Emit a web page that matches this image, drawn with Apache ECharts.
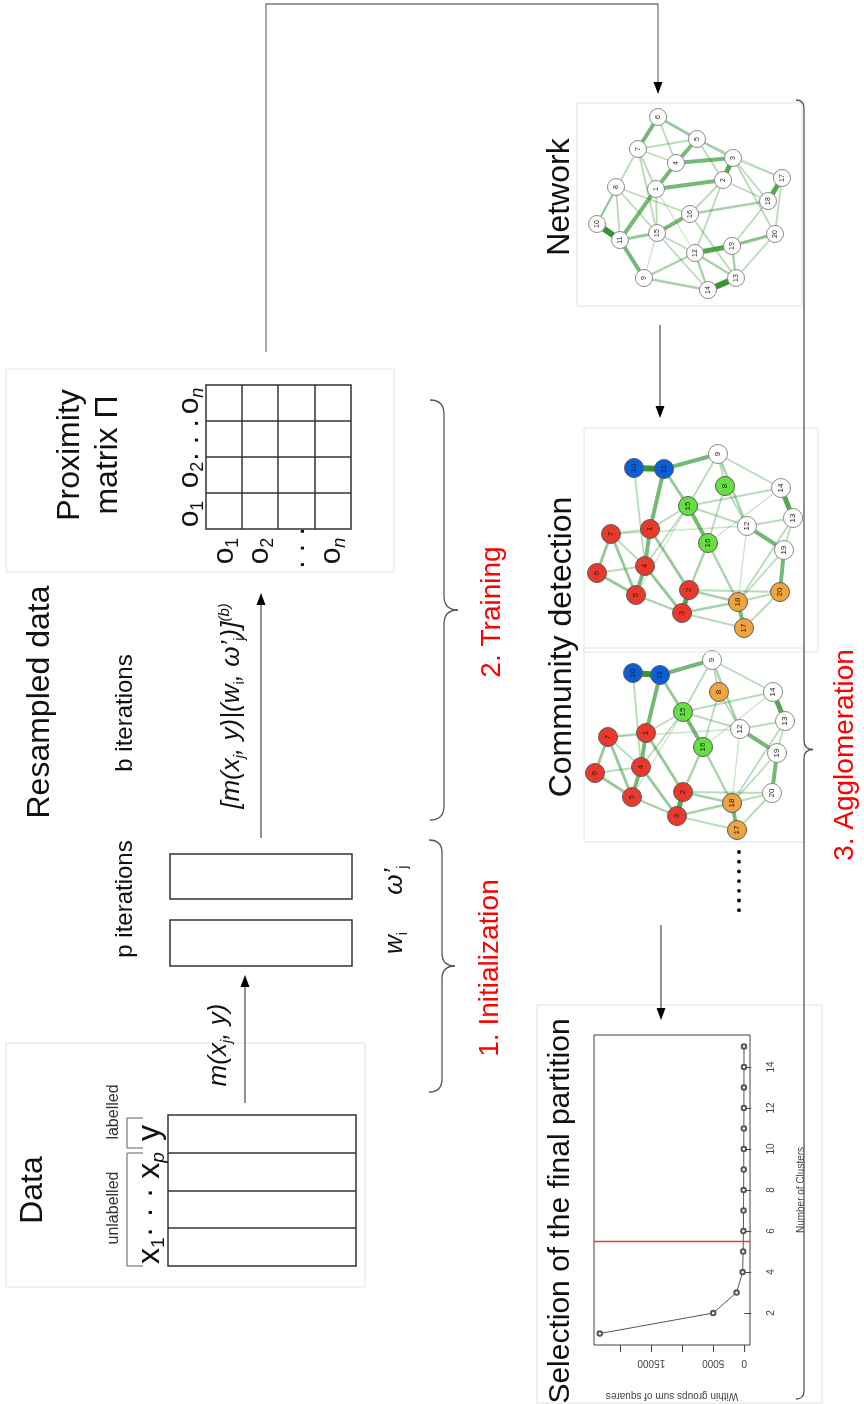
<!DOCTYPE html>
<html><head><meta charset="utf-8">
<script src="https://cdn.jsdelivr.net/npm/echarts@6/dist/echarts.min.js"></script>
<style>html,body{margin:0;padding:0;background:#fff}#c{width:864px;height:1404px}</style>
</head><body><div id="c"></div>
<script>
// ---------------- DATA ----------------
const clusterK = [1,2,3,4,5,6,7,8,9,10,11,12,13,14,15];
const withinSS = [23300,5000,1230,260,170,130,110,95,80,70,60,50,45,40,35];
const kTicks = [2,4,6,8,10,12,14];
const ssTicks = [0,5000,10000,15000,20000];
const ssTickLabels = [0,5000,15000];
const chosenK = 5.5;

// network nodes: [id, x, y, community]  (local coordinates inside each panel)
const net1Nodes = [[6,81,14,'w'],[7,61,46,'w'],[5,120,36,'w'],[4,99,60,'w'],[3,156,55,'w'],[8,39,84,'w'],[1,79,86,'w'],[2,146,77,'w'],[17,205,75,'w'],[18,191,98,'w'],[16,113,111,'w'],[10,20,121,'w'],[11,43,137,'w'],[15,80,130,'w'],[20,198,131,'w'],[19,155,143,'w'],[12,118,150,'w'],[9,67,175,'w'],[13,159,175,'w'],[14,131,187,'w']];
const net1Links = [[10,11,5],[14,13,5],[2,3,4],[18,17,4],[12,19,4],[11,9,3],[11,1,3],[1,4,3],[4,5,3],[6,7,3],[6,5,2],[1,2,3],[4,3,3],[15,16,3],[15,11,2],[19,20,2],[16,18,1.5],[12,9,1.5],[9,14,1.5],[12,14,1.5],[12,13,1.5],[19,13,1.5],[7,5,1],[7,4,1],[5,3,1.5],[3,18,1],[3,20,1],[8,16,1],[8,15,1],[10,8,1],[10,7,1],[7,15,1],[1,15,1],[16,2,1],[15,14,1],[2,12,1],[16,13,1],[20,13,1],[18,19,1],[17,20,1],[3,17,1],[6,4,1],[5,2,1],[11,8,1],[7,1,1],[2,18,1],[12,15,1],[5,17,0.5],[1,12,0.5],[9,15,0.5],[20,12,0.5]];

const net2Nodes = [[10,50,40,'b'],[11,80,41,'b'],[9,134,26,'w'],[8,141,58,'g'],[14,197,60,'w'],[15,104,78,'g'],[13,209,90,'w'],[12,163,98,'w'],[1,66,101,'r'],[7,27,106,'r'],[16,124,115,'g'],[19,200,122,'w'],[4,61,138,'r'],[6,13,145,'r'],[20,196,164,'o'],[2,105,162,'r'],[5,52,167,'r'],[18,154,174,'o'],[3,98,185,'r'],[17,160,200,'o']];
const net3Nodes = [[10,49,33,'b'],[11,76,35,'b'],[9,128,20,'w'],[8,135,52,'o'],[14,189,52,'w'],[15,99,72,'g'],[13,201,81,'w'],[12,156,89,'w'],[1,62,93,'r'],[7,24,97,'r'],[16,119,107,'g'],[19,193,113,'w'],[4,57,127,'r'],[6,11,133,'r'],[20,188,153,'w'],[2,99,152,'r'],[5,48,157,'r'],[18,148,163,'o'],[3,93,176,'r'],[17,153,190,'o']];
const commLinks = [[10,11,5],[11,9,3],[11,1,3],[11,15,2],[10,4,1],[14,13,4],[12,19,3],[19,20,3],[18,17,3],[2,3,4],[4,5,3],[1,4,3],[15,16,3],[7,6,2],[6,5,2],[7,5,2],[4,3,2],[1,2,2],[16,2,1.5],[5,3,1.5],[3,18,1.5],[2,18,1.5],[2,20,1],[16,18,1.5],[9,8,1],[9,14,1],[9,12,1.5],[8,12,1],[8,16,1],[15,14,1],[15,12,1],[13,12,1],[13,19,1],[13,18,1],[19,18,1],[20,17,1],[7,1,1],[7,4,1],[1,15,1],[7,12,0.5],[4,15,1],[5,15,0.5],[6,4,1],[3,17,1],[14,16,0.5],[9,15,1],[20,18,1],[12,18,0.5]];

// ---------------- STYLE HELPERS ----------------
const commColor = {r:'#e8392c', b:'#0a5fd8', g:'#66e040', o:'#f2a23e', w:'#ffffff'};
const FONT = 'Liberation Sans, Arial, sans-serif';
const RAD90 = Math.PI/2;

function graphSeries(nodes, links, gridIdx, size, fontSize, colored){
  const idx = {};
  nodes.forEach((n,i)=>idx[n[0]]=i);
  return {
    type:'graph', coordinateSystem:'cartesian2d', xAxisIndex:gridIdx, yAxisIndex:gridIdx,
    silent:true, symbol:'circle', symbolSize:size,
    data: nodes.map(n=>({name:String(n[0]), value:[n[1],n[2]],
      itemStyle:{color:commColor[n[3]], borderColor: (colored && n[3]!=='w') ? '#5a5a5a' : '#8a8a8a', borderWidth:1}})),
    links: links.map(l=>({source:idx[l[0]], target:idx[l[1]],
      lineStyle:{width:0.8+l[2]*1.05, color:'rgba(52,150,52,'+Math.min(1,0.18+0.165*l[2])+')', opacity:1, curveness:0}})),
    label:{show:true, position:'inside', rotate:90, fontSize:fontSize, color:'#222', fontFamily:FONT, formatter:'{b}'},
    edgeSymbol:['none','none'], z:3
  };
}

// graphic helpers
const G = [];
function text(str, x, y, size, extra){
  const st = Object.assign({text:str, fontSize:size, fontFamily:FONT, fill:'#111', align:'center', verticalAlign:'middle'}, extra||{});
  G.push({type:'text', x:x, y:y, rotation:RAD90, style:st, z:5});
}
function line(x1,y1,x2,y2,color,w){
  G.push({type:'line', shape:{x1,y1,x2,y2}, style:{stroke:color||'#555', lineWidth:w||1.3}, z:4});
}
function curve(x1,y1,cx,cy,x2,y2){
  G.push({type:'bezierCurve', shape:{x1:x1,y1:y1,x2:x2,y2:y2,cpx1:cx,cpy1:cy}, style:{stroke:'#555', lineWidth:1.3, fill:null}, z:4});
}
function rect(x,y,w,h,color,lw){
  G.push({type:'rect', shape:{x,y,width:w,height:h}, style:{fill:null, stroke:color||'#333', lineWidth:lw||1.5}, z:4});
}
function arrowUp(x,yFrom,yTip){
  line(x,yFrom,x,yTip+10,'#555',1.3);
  G.push({type:'polygon', shape:{points:[[x,yTip],[x-4.5,yTip+12],[x+4.5,yTip+12]]}, style:{fill:'#000'}, z:4});
}
function arrowDown(x,yFrom,yTip){
  line(x,yFrom,x,yTip-10,'#555',1.3);
  G.push({type:'polygon', shape:{points:[[x,yTip],[x-4.5,yTip-12],[x+4.5,yTip-12]]}, style:{fill:'#000'}, z:4});
}
function brace(x,y1,y2,hook,cusp){
  const ym=(y1+y2)/2;
  curve(x-hook,y1, x,y1, x,y1+hook);
  line(x,y1+hook,x,ym-cusp);
  curve(x,ym-cusp, x,ym, x+cusp,ym);
  curve(x+cusp,ym, x,ym, x,ym+cusp);
  line(x,ym+cusp,x,y2-hook);
  curve(x,y2-hook, x,y2, x-hook,y2);
}
function frame(x,y,w,h){ rect(x,y,w,h,'#e2e2e2',1); }

// ---------- layout of the diagram ----------
frame(6,1043,359,244);
frame(6,369,388,203);
frame(577,103,225,203);
frame(584,428,234,224);
frame(584,648,220,194);
frame(537,1005,285,398);

// Data block
text('Data', 33, 1190, 32);
rect(168,1115,188,151,'#333',1.5);
[1153,1191,1228].forEach(y=>line(168,y,356,y,'#333',1.5));
text('labelled', 114, 1112, 16, {fill:'#333'});
text('unlabelled', 114, 1208, 16, {fill:'#333'});
line(127,1118,127,1148,'#777',1.2); line(127,1118,143,1118,'#777',1.2); line(127,1148,143,1148,'#777',1.2);
line(127,1153,127,1266,'#777',1.2); line(127,1153,143,1153,'#777',1.2); line(127,1266,143,1266,'#777',1.2);
const subRich = {
  m:{fontSize:32, fontFamily:FONT, lineHeight:36, fill:'#111'},
  s:{fontSize:19, fontFamily:FONT, lineHeight:19, height:19, verticalAlign:'bottom', fill:'#111'},
  si:{fontSize:19, fontStyle:'italic', fontFamily:FONT, lineHeight:19, height:19, verticalAlign:'bottom', fill:'#111'},
  i:{fontSize:26, fontStyle:'italic', fontFamily:FONT, lineHeight:30, fill:'#111'},
  is:{fontSize:15, fontStyle:'italic', fontFamily:FONT, lineHeight:15, height:15, verticalAlign:'bottom', fill:'#111'},
  us:{fontSize:15, fontFamily:FONT, lineHeight:15, height:15, verticalAlign:'bottom', fill:'#111'},
  sup:{fontSize:15, fontStyle:'italic', fontFamily:FONT, lineHeight:15, height:15, verticalAlign:'top', fill:'#111'},
  o:{fontSize:30, fontFamily:FONT, lineHeight:34, fill:'#111'},
  os:{fontSize:18, fontFamily:FONT, lineHeight:18, height:18, verticalAlign:'bottom', fill:'#111'},
  osi:{fontSize:18, fontStyle:'italic', fontFamily:FONT, lineHeight:18, height:18, verticalAlign:'bottom', fill:'#111'}
};
text('{m|y}', 150, 1133, 32, {rich:subRich});
text('{m|x}{s|1}{m|· · · x}{si|p}', 150, 1208, 32, {rich:subRich});

// arrow data -> p iterations
arrowUp(245,1103,975);
text('{i|m(x}{is|j}{i|, y)}', 219, 1045, 26, {rich:subRich});

// resampled data
text('Resampled data', 40, 702, 32);
text('p iterations', 125, 899, 24);
text('b iterations', 125, 713, 24);
rect(170,854,182,45,'#333',1.5);
rect(170,920,182,46,'#333',1.5);
text('{i|w}{us|i}', 395, 943, 26, {rich:subRich});
text('{i|ω’}{us|j}', 395, 880, 26, {rich:subRich});
arrowUp(261,838,593);
text('{i|[m(x}{is|j}{i|, y)|(w}{us|i}{i|, ω’}{us|j}{i|)]}{sup|(b)}', 232, 706, 26, {rich:subRich});

// proximity matrix
G.push({type:'text', x:89, y:455, rotation:RAD90, z:5, style:{text:'Proximity\nmatrix Π', fontSize:32, fontFamily:FONT, fill:'#111', align:'center', verticalAlign:'middle', lineHeight:38}});
rect(206,385,145,144,'#333',1.5);
[421,457,493].forEach(y=>line(206,y,351,y,'#333',1.5));
[242,278,315].forEach(x=>line(x,385,x,529,'#333',1.5));
text('{o|o}{os|1}', 190, 514, 30, {rich:subRich});
text('{o|o}{os|2}', 190, 475, 30, {rich:subRich});
text('{o|. . .}', 190, 440, 30, {rich:subRich});
text('{o|o}{osi|n}', 190, 401, 30, {rich:subRich});
text('{o|o}{os|1}', 225, 551, 30, {rich:subRich});
text('{o|o}{os|2}', 260, 551, 30, {rich:subRich});
text('{o|. . .}', 296, 548, 30, {rich:subRich});
text('{o|o}{osi|n}', 332, 551, 30, {rich:subRich});

// connector to network
G.push({type:'polyline', shape:{points:[[266,352],[266,4],[658,4],[658,82]]}, style:{stroke:'#777', lineWidth:1.3, fill:null}, z:4});
G.push({type:'polygon', shape:{points:[[658,94],[653.5,82],[662.5,82]]}, style:{fill:'#000'}, z:4});

// network / community / selection
text('Network', 560, 197, 32);
arrowDown(660,325,418);
text('Community detection', 562, 647, 32);
for(let i=0;i<7;i++) G.push({type:'circle', shape:{cx:739, cy:852+i*9.7, r:1.9}, style:{fill:'#000'}, z:4});
arrowDown(661,925,1020);
text('Selection of the final partition', 561, 1211, 30);

// braces and red labels
brace(444,400,820,14,14);
brace(442,840,1092,13,13);
brace(804,100,1399,8,9);
text('2. Training', 492, 612, 28, {fill:'#ff0000'});
text('1. Initialization', 490, 968, 28, {fill:'#ff0000'});
text('3. Agglomeration', 845, 755, 28, {fill:'#ff0000'});

// ---------------- CHART ----------------
const chart = echarts.init(document.getElementById('c'), null, {renderer:'canvas'});
const hidden = {show:false};
function netAxis(gi, max, inv){ return {type:'value', gridIndex:gi, min:0, max:max, inverse:!!inv, show:false, splitLine:hidden}; }
const RED = '#ee3b30';
const option = {
  backgroundColor:'#ffffff',
  animation:false,
  grid:[
    {left:594, top:1035, width:156, height:310, show:true, borderColor:'#444', borderWidth:1, backgroundColor:'rgba(0,0,0,0)'},
    {left:577, top:103, width:225, height:203},
    {left:584, top:428, width:230, height:222},
    {left:584, top:640, width:230, height:202}
  ],
  xAxis:[
    {type:'value', gridIndex:0, inverse:true, min:-932, max:24232,
     axisLine:{show:false}, splitLine:{show:false},
     axisTick:{show:true, length:7, customValues:ssTicks, lineStyle:{color:'#444'}},
     axisLabel:{show:true, customValues:ssTickLabels, rotate:180, fontSize:10, color:'#444', fontFamily:FONT, margin:13,
                formatter:function(v){return String(v);}},
     name:'Within groups sum of squares', nameLocation:'middle', nameRotate:180, nameGap:46,
     nameTextStyle:{fontSize:10, color:'#444', fontFamily:FONT}},
    netAxis(1,225), netAxis(2,230), netAxis(3,230)
  ],
  yAxis:[
    {type:'value', gridIndex:0, position:'right', min:0.44, max:15.56,
     axisLine:{show:false}, splitLine:{show:false},
     axisTick:{show:true, length:7, customValues:kTicks, lineStyle:{color:'#444'}},
     axisLabel:{show:true, customValues:kTicks, rotate:90, fontSize:10, color:'#444', fontFamily:FONT, margin:16},
     name:'Number of Clusters', nameLocation:'middle', nameRotate:90, nameGap:46,
     nameTextStyle:{fontSize:10, color:'#444', fontFamily:FONT}},
    netAxis(1,203,true), netAxis(2,222,true), netAxis(3,202,true)
  ],
  series:[
    {type:'line', xAxisIndex:0, yAxisIndex:0, data:clusterK.map((k,i)=>[withinSS[i],k]),
     symbol:'emptyCircle', symbolSize:4.5, lineStyle:{color:'#444', width:0.9}, itemStyle:{color:'#555', borderWidth:0.7},
     silent:true, z:3},
    {type:'line', xAxisIndex:0, yAxisIndex:0, data:[], silent:true, z:4,
     markLine:{symbol:['none','none'], silent:true, label:{show:false},
       lineStyle:{color:RED, width:1.3, type:'solid', opacity:1},
       itemStyle:{color:RED},
       emphasis:{disabled:true},
       data:[{yAxis:chosenK, lineStyle:{color:RED}}]}},
    graphSeries(net1Nodes, net1Links, 1, 17, 7, false),
    graphSeries(net2Nodes, commLinks, 2, 19, 8, true),
    graphSeries(net3Nodes, commLinks, 3, 19, 8, true)
  ],
  graphic: G
};
chart.setOption(option);
</script></body></html>
